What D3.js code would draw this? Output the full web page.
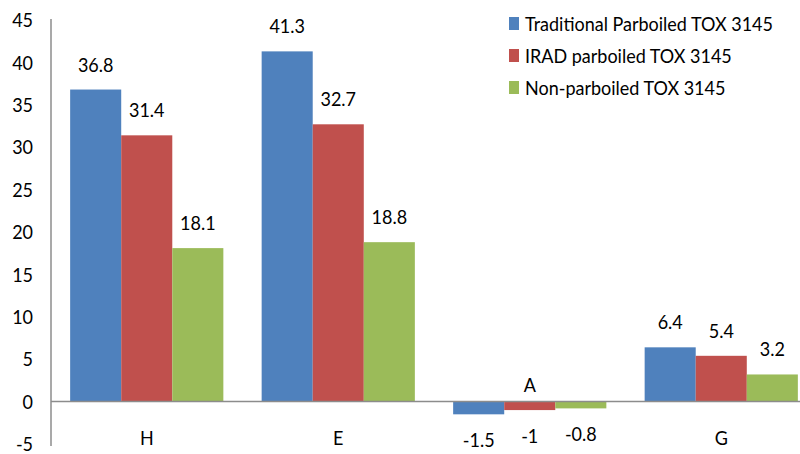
<!DOCTYPE html>
<html lang="en">
<head>
    <meta charset="UTF-8">
    <title>TOX 3145 colour parameters</title>
    <script src="https://d3js.org/d3.v7.min.js"></script>
    <style>
        body {
            margin: 0;
            background: #fff;
        }
        svg text {
            font-family: Lato, "Open Sans", sans-serif;
            fill: #000;
        }
    </style>
</head>
<body>
    <div id="chart"></div>

    <script>
        const categories = ['H', 'E', 'A', 'G'];
        const seriesNames = ['Traditional Parboiled TOX 3145', 'IRAD parboiled TOX 3145', 'Non-parboiled TOX 3145'];
        const traditional = [36.8, 41.3, -1.5, 6.4];
        const irad = [31.4, 32.7, -1, 5.4];
        const nonParboiled = [18.1, 18.8, -0.8, 3.2];
        const yTicks = [-5, 0, 5, 10, 15, 20, 25, 30, 35, 40, 45];
        const colors = ['#4F81BD', '#C0504D', '#9BBB59'];

        const series = [traditional, irad, nonParboiled];

        const width = 800;
        const height = 454;
        const plotLeft = 51;
        const plotRight = 817;   // plot area runs past the right edge, like the original crop
        const plotTop = 20;
        const plotBottom = 444;
        const fontSize = 20;
        const squeeze = 0.9;     // original text is narrow and tall

        const svg = d3.select('#chart').append('svg')
            .attr('width', width)
            .attr('height', height);

        const y = d3.scaleLinear().domain([-5, 45]).range([plotBottom, plotTop]);
        const x0 = d3.scaleBand().domain(categories).range([plotLeft, plotRight])
            .paddingInner(0.2).paddingOuter(0.1);
        const x1 = d3.scaleBand().domain(d3.range(series.length)).range([0, x0.bandwidth()]);

        // y tick labels (no tick marks)
        svg.append('g').selectAll('text')
            .data(yTicks)
            .join('text')
            .attr('x', 33)
            .attr('y', d => y(d))
            .attr('dy', '0.36em')
            .attr('text-anchor', 'end')
            .text(d => d);

        // bars
        const groups = svg.append('g').selectAll('g')
            .data(categories)
            .join('g')
            .attr('transform', c => `translate(${x0(c)},0)`);

        groups.selectAll('rect')
            .data((c, i) => series.map((s, k) => ({ k: k, v: s[i] })))
            .join('rect')
            .attr('x', d => x1(d.k))
            .attr('width', x1.bandwidth())
            .attr('y', d => y(Math.max(0, d.v)))
            .attr('height', d => Math.abs(y(d.v) - y(0)))
            .attr('fill', d => colors[d.k]);

        // value labels
        groups.selectAll('text.val')
            .data((c, i) => series.map((s, k) => ({ k: k, v: s[i] })))
            .join('text')
            .attr('class', 'val')
            .attr('x', d => x1(d.k) + x1.bandwidth() / 2)
            .attr('y', d => d.v >= 0 ? y(d.v) - 18 : y(d.v) + 33)
            .attr('text-anchor', 'middle')
            .text(d => d.v);

        // axes lines
        svg.append('line')
            .attr('x1', plotLeft).attr('x2', width)
            .attr('y1', y(0)).attr('y2', y(0))
            .attr('stroke', '#8c8c8c').attr('stroke-width', 1.5);
        svg.append('line')
            .attr('x1', plotLeft).attr('x2', plotLeft)
            .attr('y1', plotTop - 1).attr('y2', plotBottom + 2)
            .attr('stroke', '#8c8c8c').attr('stroke-width', 1.5);

        // category labels: below the axis, or above it when the whole group is negative
        svg.append('g').selectAll('text')
            .data(categories)
            .join('text')
            .attr('x', c => x0(c) + x0.bandwidth() / 2)
            .attr('y', (c, i) => series.every(s => s[i] < 0) ? y(0) - 10 : 445)
            .attr('text-anchor', 'middle')
            .text(c => c);

        // legend
        const legend = svg.append('g').selectAll('g')
            .data(seriesNames)
            .join('g')
            .attr('transform', (d, i) => `translate(509,${17 + i * 32})`);
        legend.append('rect')
            .attr('width', 10).attr('height', 13)
            .attr('fill', (d, i) => colors[i]);
        legend.append('text')
            .attr('x', 16)
            .attr('y', 7)
            .attr('dy', '0.36em')
            .text(d => d);

        // narrow every label horizontally around its anchor point
        svg.selectAll('text').each(function() {
            const t = d3.select(this);
            const tx = +t.attr('x'), ty = +t.attr('y');
            t.attr('x', 0).attr('y', 0)
                .attr('font-size', fontSize)
                .attr('transform', `translate(${tx},${ty}) scale(${squeeze},1)`);
        });
    </script>
</body>
</html>
